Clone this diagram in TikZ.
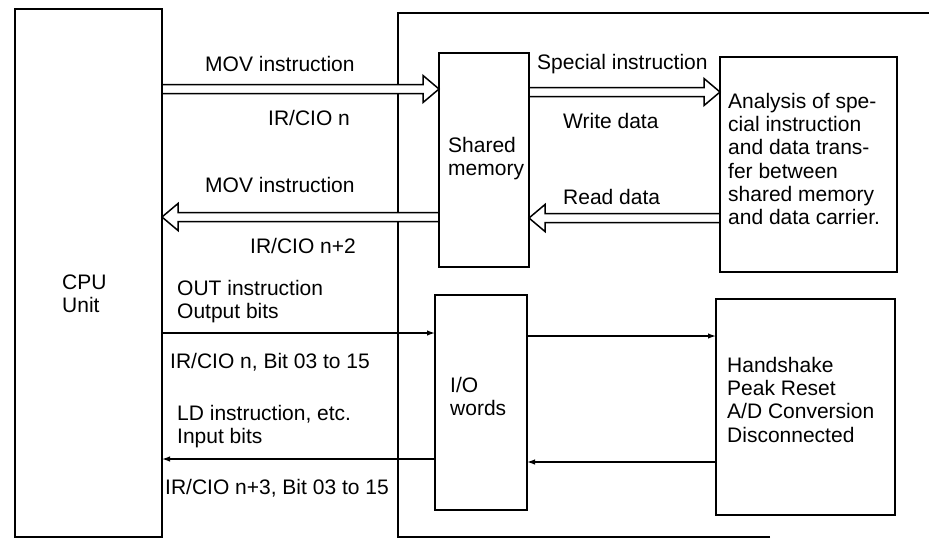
\documentclass[tikz,border=0pt]{standalone}
\usepackage{fontspec}
\setmainfont{Liberation Sans}
\usetikzlibrary{arrows.meta,calc}
\pgfdeclarelayer{back}
\pgfsetlayers{back,main}
\newcommand\hollowarrow[3]{% #1 start, #2 tip, #3 direction (1 right, -1 left)
  \filldraw[hollow] ($(#1)+(0,-4.5)$) -- ($(#2)+({-16*#3},-4.5)$) -- ($(#2)+({-16*#3},-13.5)$) -- (#2)
    -- ($(#2)+({-16*#3},13.5)$) -- ($(#2)+({-16*#3},4.5)$) -- ($(#1)+(0,4.5)$);}
\begin{document}
\begin{tikzpicture}[x=1pt,y=-1pt,
  box/.style={draw,line width=1.8pt,inner sep=0pt,outer sep=0pt,anchor=north west},
  lbl/.style={inner sep=0pt,anchor=base west,font=\fontsize{21}{23.3}\selectfont},
  mlbl/.style={inner sep=0pt,anchor=north west,align=left,font=\fontsize{21}{23.3}\selectfont},
  thinarrow/.style={line width=1.3pt,-{Latex[length=8pt,width=5.5pt]}},
  hollow/.style={draw,fill=white,line width=1.5pt,line join=miter}]
\useasboundingbox (0,0) rectangle (929,542);
% boxes
\node[box,minimum width=147pt,minimum height=528pt] (cpu) at (15,9) {};
\node[box,minimum width=90pt,minimum height=214pt] (shm) at (439,53) {};
\node[box,minimum width=177pt,minimum height=215pt] (ana) at (720,57) {};
\node[box,minimum width=92pt,minimum height=215pt] (io) at (435,295) {};
\node[box,minimum width=179pt,minimum height=216pt] (hs) at (716,299) {};
% container (open at the right)
\coordinate (cbr) at (770,537);
\coordinate (cbl) at (398,537);
\coordinate (ctl) at (398,13);
\coordinate (ctr) at (929,13);
% hollow arrow ends
\coordinate (a1s) at (cpu.east |- 0,89);  \coordinate (a1e) at (shm.west |- 0,89);
\coordinate (a2s) at (shm.west |- 0,217); \coordinate (a2e) at (cpu.east |- 0,217);
\coordinate (a3s) at (shm.east |- 0,92);  \coordinate (a3e) at (ana.west |- 0,92);
\coordinate (a4s) at (ana.west |- 0,218); \coordinate (a4e) at (shm.east |- 0,218);
\begin{pgfonlayer}{back}
\draw[line width=1.8pt] (cbr) -- (cbl) -- (ctl) -- (ctr);
\hollowarrow{a1s}{a1e}{1}
\hollowarrow{a2s}{a2e}{-1}
\hollowarrow{a3s}{a3e}{1}
\hollowarrow{a4s}{a4e}{-1}
\end{pgfonlayer}
% thin arrows
\draw[thinarrow] (cpu.east |- 0,333) -- (io.west |- 0,333);
\draw[thinarrow] (io.east |- 0,336) -- (hs.west |- 0,336);
\draw[thinarrow] (hs.west |- 0,462) -- (io.east |- 0,462);
\draw[thinarrow] (io.west |- 0,459) -- (cpu.east |- 0,459);
% labels
\node[lbl] (t1) at (205,71) {MOV instruction};
\node[lbl] (t2) at (268,125) {IR/CIO n};
\node[lbl] (t3) at (205,192) {MOV instruction};
\node[lbl] (t4) at (250,253) {IR/CIO n+2};
\node[mlbl] (t5) at (177,279.8) {OUT instruction\\Output bits};
\node[lbl] (t6) at (170,368) {IR/CIO n, Bit 03 to 15};
\node[mlbl] (t7) at (177,404.8) {LD instruction, etc.\\Input bits};
\node[lbl] (t8) at (165,494) {IR/CIO n+3, Bit 03 to 15};
\node[lbl] (t9) at (537,69) {Special instruction};
\node[lbl] (t10) at (563,128) {Write data};
\node[lbl] (t11) at (563,204) {Read data};
\node[mlbl] (t12) at (448,136.8) {Shared\\memory};
\node[mlbl] (t13) at (728,92.8) {Analysis of spe-\\cial instruction\\and data trans-\\fer between\\shared memory\\and data carrier.};
\node[mlbl] (t14) at (727,356.8) {Handshake\\Peak Reset\\A/D Conversion\\Disconnected};
\node[mlbl] (t15) at (450,376.8) {I/O\\words};
\node[mlbl] (t16) at (62,274.8) {CPU\\Unit};
\end{tikzpicture}
\end{document}
